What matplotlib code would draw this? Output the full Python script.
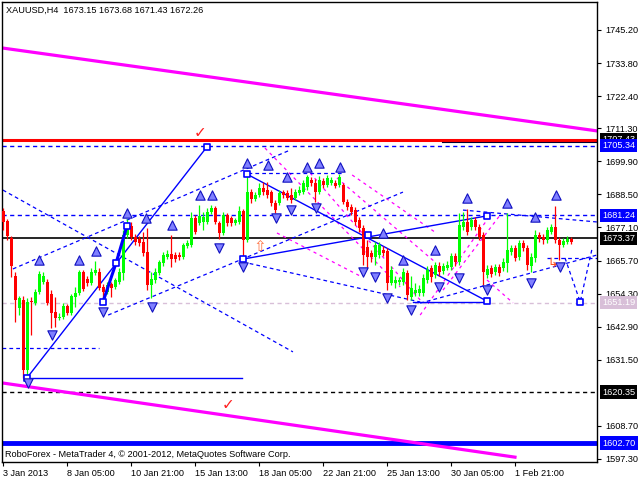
import matplotlib
matplotlib.use("Agg")
import matplotlib.pyplot as plt
import matplotlib.transforms as mtransforms

# ---------------- candle data (XAUUSD H4, bar index 0..142) ----------------
opens = [1682.8, 1679.3, 1673.5, 1660.4, 1649.3, 1652.1, 1628.0, 1651.8, 1651.1, 1654.9,
         1658.3, 1658.3, 1654.2, 1647.9, 1645.9, 1646.2, 1650.0, 1647.6, 1653.1, 1654.5,
         1661.8, 1659.3, 1657.9, 1661.4, 1661.8, 1656.6, 1654.9, 1657.6, 1656.6, 1658.3,
         1661.4, 1674.5, 1677.6, 1673.8, 1673.1, 1672.1, 1668.6, 1657.3, 1659.0, 1661.4,
         1664.8, 1666.9, 1667.9, 1667.6, 1667.6, 1666.9, 1670.7, 1671.1, 1680.4, 1678.7,
         1679.0, 1679.0, 1682.4, 1683.8, 1678.7, 1675.2, 1681.4, 1680.4, 1678.7, 1679.0,
         1682.8, 1672.8, 1689.3, 1686.9, 1688.3, 1690.7, 1690.0, 1689.3, 1685.5, 1685.5,
         1689.3, 1689.0, 1688.3, 1687.3, 1689.0, 1689.3, 1691.0, 1693.5, 1692.4, 1689.3,
         1693.1, 1691.7, 1692.4, 1692.4, 1691.7, 1691.7, 1685.9, 1684.1, 1683.1, 1679.7,
         1676.9, 1670.4, 1668.3, 1666.9, 1667.6, 1669.3, 1669.0, 1658.0, 1658.0, 1658.3,
         1658.3, 1661.4, 1653.1, 1654.5, 1654.5, 1654.5, 1659.0, 1663.1, 1660.7, 1663.8,
         1662.1, 1663.1, 1663.5, 1667.3, 1665.2, 1677.3, 1679.0, 1677.3, 1679.7, 1677.3,
         1674.5, 1660.7, 1663.1, 1661.8, 1663.5, 1663.1, 1664.8, 1668.6, 1670.0, 1666.9,
         1671.8, 1670.0, 1663.8, 1666.6, 1674.5, 1673.8, 1672.8, 1675.5, 1677.3, 1672.8,
         1671.1, 1672.1, 1673.15]
closes = [1679.0, 1674.2, 1663.8, 1652.1, 1652.8, 1628.0, 1651.4, 1651.4, 1654.9, 1661.1,
          1660.4, 1651.1, 1647.6, 1645.9, 1646.2, 1650.0, 1647.6, 1653.5, 1654.5, 1661.8,
          1655.9, 1657.9, 1661.8, 1662.4, 1656.2, 1654.9, 1657.3, 1656.2, 1659.0, 1661.8,
          1674.5, 1678.7, 1673.8, 1672.1, 1671.8, 1668.3, 1657.3, 1659.3, 1661.8, 1665.2,
          1667.6, 1667.9, 1666.2, 1666.2, 1666.9, 1671.1, 1671.8, 1680.4, 1675.5, 1681.1,
          1680.7, 1682.4, 1683.8, 1679.0, 1675.2, 1681.4, 1678.7, 1678.7, 1679.7, 1682.8,
          1672.8, 1689.3, 1686.9, 1688.3, 1690.7, 1689.3, 1688.3, 1685.5, 1683.1, 1689.0,
          1688.3, 1687.3, 1686.6, 1689.3, 1690.0, 1692.4, 1694.5, 1692.4, 1689.3, 1693.5,
          1691.7, 1694.2, 1693.5, 1691.4, 1694.5, 1685.9, 1684.1, 1682.4, 1679.0, 1676.9,
          1667.6, 1666.9, 1666.9, 1671.1, 1671.1, 1668.3, 1658.0, 1662.4, 1659.0, 1659.0,
          1661.8, 1653.8, 1656.2, 1655.5, 1655.9, 1659.7, 1662.4, 1660.0, 1664.2, 1661.8,
          1663.8, 1664.2, 1667.3, 1665.2, 1678.0, 1679.0, 1675.5, 1679.7, 1677.3, 1673.8,
          1661.8, 1662.8, 1661.1, 1663.5, 1661.4, 1665.2, 1669.3, 1670.0, 1666.6, 1671.8,
          1670.0, 1664.2, 1666.9, 1674.5, 1673.5, 1672.8, 1676.2, 1677.3, 1672.8, 1671.1,
          1672.4, 1673.1, 1672.26]
highs = [1683.8, 1680.0, 1674.2, 1661.8, 1653.5, 1653.5, 1652.8, 1653.1, 1655.9, 1662.1,
         1661.8, 1659.3, 1655.5, 1653.1, 1647.6, 1651.1, 1650.7, 1654.2, 1656.6, 1662.4,
         1662.4, 1660.4, 1663.1, 1665.5, 1663.1, 1657.6, 1658.3, 1658.3, 1659.7, 1663.1,
         1676.2, 1680.0, 1679.0, 1674.9, 1674.2, 1675.5, 1676.9, 1661.8, 1663.1, 1665.9,
         1668.6, 1669.3, 1674.5, 1668.6, 1668.6, 1671.8, 1672.8, 1682.4, 1681.4, 1684.8,
         1682.4, 1683.8, 1684.8, 1684.5, 1679.3, 1682.4, 1682.1, 1681.1, 1680.4, 1684.5,
         1683.5, 1695.9, 1690.4, 1689.3, 1692.4, 1692.8, 1692.8, 1690.0, 1686.6, 1690.0,
         1690.0, 1690.0, 1690.7, 1690.4, 1691.4, 1693.5, 1695.2, 1694.5, 1693.8, 1694.9,
         1694.2, 1695.2, 1694.5, 1693.5, 1695.5, 1692.4, 1686.9, 1685.2, 1684.1, 1680.7,
         1678.0, 1672.8, 1669.3, 1672.1, 1672.1, 1670.7, 1670.0, 1663.8, 1660.4, 1660.0,
         1663.1, 1662.4, 1660.4, 1657.9, 1657.3, 1661.1, 1663.8, 1664.2, 1665.2, 1665.2,
         1664.8, 1665.5, 1668.3, 1668.3, 1682.1, 1682.4, 1683.5, 1680.7, 1680.7, 1678.3,
         1675.5, 1664.2, 1664.2, 1664.5, 1664.5, 1666.6, 1682.1, 1671.1, 1671.1, 1672.8,
         1672.8, 1671.1, 1668.3, 1676.2, 1675.5, 1674.9, 1677.3, 1678.3, 1684.5, 1673.8,
         1673.5, 1674.2, 1673.68]
lows = [1676.2, 1672.8, 1660.0, 1644.5, 1646.9, 1625.2, 1624.8, 1640.0, 1650.4, 1654.2,
        1657.6, 1650.4, 1642.4, 1642.8, 1645.2, 1645.5, 1646.9, 1646.9, 1649.7, 1653.8,
        1655.2, 1656.9, 1657.3, 1660.7, 1655.5, 1651.1, 1654.2, 1653.1, 1655.9, 1657.6,
        1659.0, 1673.5, 1672.8, 1671.1, 1670.7, 1667.3, 1655.5, 1652.8, 1657.9, 1660.7,
        1663.8, 1666.2, 1663.5, 1665.2, 1665.9, 1666.2, 1670.0, 1670.4, 1674.9, 1678.0,
        1676.2, 1678.3, 1681.7, 1678.3, 1673.1, 1674.5, 1677.6, 1677.6, 1678.0, 1678.3,
        1666.6, 1672.1, 1685.5, 1686.2, 1687.6, 1688.3, 1687.3, 1684.5, 1682.1, 1684.8,
        1687.3, 1686.6, 1685.5, 1686.6, 1688.3, 1688.6, 1690.0, 1691.4, 1685.9, 1688.6,
        1690.7, 1691.0, 1691.7, 1690.7, 1691.0, 1685.2, 1683.1, 1681.4, 1678.0, 1675.5,
        1664.2, 1663.1, 1665.2, 1664.2, 1666.6, 1667.3, 1655.5, 1657.3, 1656.2, 1657.3,
        1657.3, 1652.1, 1652.1, 1653.5, 1653.5, 1653.5, 1657.9, 1658.3, 1659.7, 1660.4,
        1661.1, 1662.4, 1662.4, 1663.8, 1664.2, 1676.2, 1674.5, 1676.2, 1676.2, 1672.8,
        1657.3, 1659.7, 1660.0, 1660.7, 1660.4, 1662.1, 1661.8, 1667.6, 1665.5, 1665.9,
        1669.0, 1662.4, 1661.8, 1665.2, 1672.1, 1671.4, 1671.8, 1674.9, 1671.8, 1665.9,
        1670.4, 1671.4, 1671.43]

# ---------------- axis labels ----------------
ytick_vals = [1745.20, 1733.80, 1722.40, 1711.30, 1699.90, 1688.50, 1677.10,
              1665.70, 1654.30, 1642.90, 1631.50, 1608.70, 1597.30]
xtick_bars = [0, 16, 32, 48, 64, 80, 96, 112, 128]
xtick_labels = ["3 Jan 2013", "8 Jan 05:00", "10 Jan 21:00", "15 Jan 13:00", "18 Jan 05:00",
                "22 Jan 21:00", "25 Jan 13:00", "30 Jan 05:00", "1 Feb 21:00"]

# horizontal price levels
level_prices = [1707.43, 1705.34, 1681.24, 1673.37, 1651.19, 1620.35, 1602.70]
level_colors = ["#ff0000", "#0000ff", "#0000ff", "#000000", "#d8bfd8", "#000000", "#0000ff"]
level_styles = ["-", "--", "--", "-", "--", "--", "-"]
level_widths = [2.2, 1.0, 1.0, 1.2, 1.0, 1.0, 3.5]
label_bg = ["#000000", "#0000ff", "#0000ff", "#000000", "#d8bfd8", "#000000", "#0000ff"]

# trend lines (bar index, price)
magenta_solid = [((-0.3, 1739.0), (148.4, 1710.4)), ((-0.3, 1623.5), (127.9, 1597.9))]
blue_solid = [((5.9, 1625.2), (50.9, 1704.9)),
              ((60.9, 1695.5), (120.9, 1651.7)),
              ((59.9, 1666.2), (120.9, 1681.1)),
              ((102.4, 1651.4), (120.9, 1651.4)),
              ((5.9, 1625.2), (59.7, 1625.2))]
blue_thick_x = [24.9, 28.2, 30.9]
blue_thick_y = [1651.4, 1664.9, 1677.6]
blue_dashed = [((-0.1, 1690.0), (72.4, 1634.2)),
               ((2.4, 1662.8), (71.7, 1703.8)),
               ((26.2, 1646.9), (99.9, 1689.3)),
               ((61.2, 1695.9), (84.9, 1695.9)),
               ((59.9, 1665.2), (104.2, 1651.4)),
               ((104.2, 1651.0), (148.4, 1667.6)),
               ((114.9, 1683.1), (148.4, 1679.0)),
               ((135.9, 1666.6), (148.4, 1666.6)),
               ((-0.3, 1635.5), (24.0, 1635.5))]
forecast_x = [140.4, 144.2, 147.2]
forecast_y = [1666.6, 1651.4, 1670.0]
magenta_dashed = [((65.4, 1704.5), (99.2, 1656.6)),
                  ((76.7, 1695.9), (104.2, 1652.1)),
                  ((83.4, 1694.2), (107.9, 1665.2)),
                  ((87.2, 1695.2), (107.9, 1675.5)),
                  ((68.4, 1675.2), (89.7, 1660.0)),
                  ((104.2, 1646.9), (120.9, 1679.7)),
                  ((109.9, 1655.5), (124.2, 1681.4)),
                  ((120.9, 1659.0), (127.4, 1651.1))]
square_x = [5.9, 50.9, 24.9, 28.2, 30.9, 60.9, 59.9, 91.2, 120.9, 120.9, 144.2]
square_y = [1625.2, 1704.9, 1651.4, 1664.9, 1677.6, 1695.5, 1666.2, 1674.5, 1681.1, 1651.7, 1651.4]

up_x = [8.9, 18.9, 23.2, 30.9, 35.7, 42.2, 49.2, 52.2, 60.9, 66.2, 70.9, 75.9, 78.9, 84.2,
        94.9, 99.9, 107.9, 115.9, 125.9, 132.9, 138.2]
up_y = [1665.9, 1665.9, 1669.0, 1682.1, 1680.4, 1678.0, 1688.3, 1688.3, 1699.3, 1698.6,
        1694.5, 1697.9, 1699.3, 1697.9, 1675.2, 1665.9, 1669.3, 1687.3, 1685.5, 1680.7, 1688.3]
dn_x = [6.2, 12.2, 24.9, 37.2, 54.0, 60.0, 68.2, 71.9, 78.2, 90.0, 92.9, 95.9, 101.9,
        108.9, 113.9, 120.9, 131.9, 139.2]
dn_y = [1623.5, 1640.0, 1647.9, 1649.7, 1670.0, 1663.5, 1680.4, 1683.1, 1683.8, 1661.8,
        1660.0, 1652.8, 1648.6, 1656.6, 1659.7, 1655.5, 1657.9, 1663.5]

# ---------------- figure ----------------
plt.rcParams['font.family'] = ['Liberation Sans', 'DejaVu Sans']
FS = 6.6
fig = plt.figure(figsize=(6.4, 4.8), dpi=100)
fig.patch.set_facecolor("white")
ax = fig.add_axes([2 / 640, 18 / 480, 595 / 640, 460 / 480])
ax.set_xlim(-0.325, 148.4)
ax.set_ylim(1596.23, 1754.85)

dash = (0, (3, 2.5))

for p, c, s, w in zip(level_prices, level_colors, level_styles, level_widths):
    ax.axhline(p, color=c, lw=w, ls=dash if s == "--" else "-", zorder=2)
ax.axhline(1706.7, xmin=0.74, xmax=1.0, color="#000033", lw=0.8, zorder=2)

for (a, b) in magenta_solid:
    ax.plot([a[0], b[0]], [a[1], b[1]], color="#ff00ff", lw=2.3, zorder=2)
for (a, b) in magenta_dashed:
    ax.plot([a[0], b[0]], [a[1], b[1]], color="#ff00ff", lw=0.9, ls=(0, (2.5, 3)), zorder=2)
for (a, b) in blue_dashed:
    ax.plot([a[0], b[0]], [a[1], b[1]], color="#0000ff", lw=0.9, ls=dash, zorder=2)
for (a, b) in blue_solid:
    ax.plot([a[0], b[0]], [a[1], b[1]], color="#0000ff", lw=1.0, zorder=2)
ax.plot(forecast_x, forecast_y, color="#0000ff", lw=0.9, ls=dash, zorder=2)
ax.plot(blue_thick_x, blue_thick_y, color="#0000ff", lw=2.2, zorder=4)

# candles
for i, (o, h, l, c) in enumerate(zip(opens, highs, lows, closes)):
    col = "#00ff00" if c >= o else "#ff0000"
    ax.vlines(i, l, h, color=col, lw=0.9, zorder=3)
    body = max(abs(c - o), 0.35)
    ax.bar(i, body, bottom=min(o, c), width=0.72, color=col, edgecolor="none", zorder=3)

ax.scatter(square_x, square_y, marker="s", s=22, facecolor="white", edgecolor="#0000ff",
           lw=1.2, zorder=5)
ax.scatter(up_x, up_y, marker="^", s=45, facecolor="#8080ff", edgecolor="#1010c0", lw=0.8, zorder=5)
ax.scatter(dn_x, dn_y, marker="v", s=45, facecolor="#8080ff", edgecolor="#1010c0", lw=0.8, zorder=5)

ax.text(64.2, 1670.4, "\u21e7", color="#ff7040", fontsize=11, ha="center", va="center",
        zorder=6, family="DejaVu Sans")
ax.text(137.2, 1664.6, "\u21b3", color="#ff5020", fontsize=9, ha="center", va="center",
        zorder=6, family="DejaVu Sans")
ax.text(49.2, 1709.8, "\u2713", color="#ff2020", fontsize=11, ha="center", va="center",
        zorder=6, family="DejaVu Sans")
ax.text(56.2, 1616.2, "\u2713", color="#ff2020", fontsize=11, ha="center", va="center",
        zorder=6, family="DejaVu Sans")

for sp in ax.spines.values():
    sp.set_color("black")
    sp.set_linewidth(1.0)
ax.yaxis.tick_right()
ax.set_yticks(ytick_vals)
ax.set_yticklabels([f"{v:.2f}" for v in ytick_vals], fontsize=FS)
ax.tick_params(axis="y", length=3, width=0.8, pad=3, direction="out")
ax.set_xticks(xtick_bars)
ax.set_xticklabels(xtick_labels, fontsize=FS, ha="left")
ax.tick_params(axis="x", length=3, width=0.8, pad=2, direction="out")

# price labels on the right
trans = mtransforms.offset_copy(
    mtransforms.blended_transform_factory(ax.transAxes, ax.transData),
    fig=fig, x=5, y=0, units="dots")
for p, bg in zip(level_prices, label_bg):
    ax.text(1.0, p, f"{p:.2f}", transform=trans, ha="left", va="center", color="white",
            fontsize=FS, clip_on=False, zorder=10,
            bbox=dict(boxstyle="square,pad=0.25", fc=bg, ec="none"))

ax.text(0.006, 0.983, "XAUUSD,H4  1673.15 1673.68 1671.43 1672.26", transform=ax.transAxes,
        fontsize=FS, ha="left", va="center", color="black", zorder=10)
ax.text(0.005, 0.016, "RoboForex - MetaTrader 4, \u00a9 2001-2012, MetaQuotes Software Corp.",
        transform=ax.transAxes, fontsize=FS, ha="left", va="center", color="black", zorder=10)

fig.savefig("out.png", dpi=100, facecolor="white")
